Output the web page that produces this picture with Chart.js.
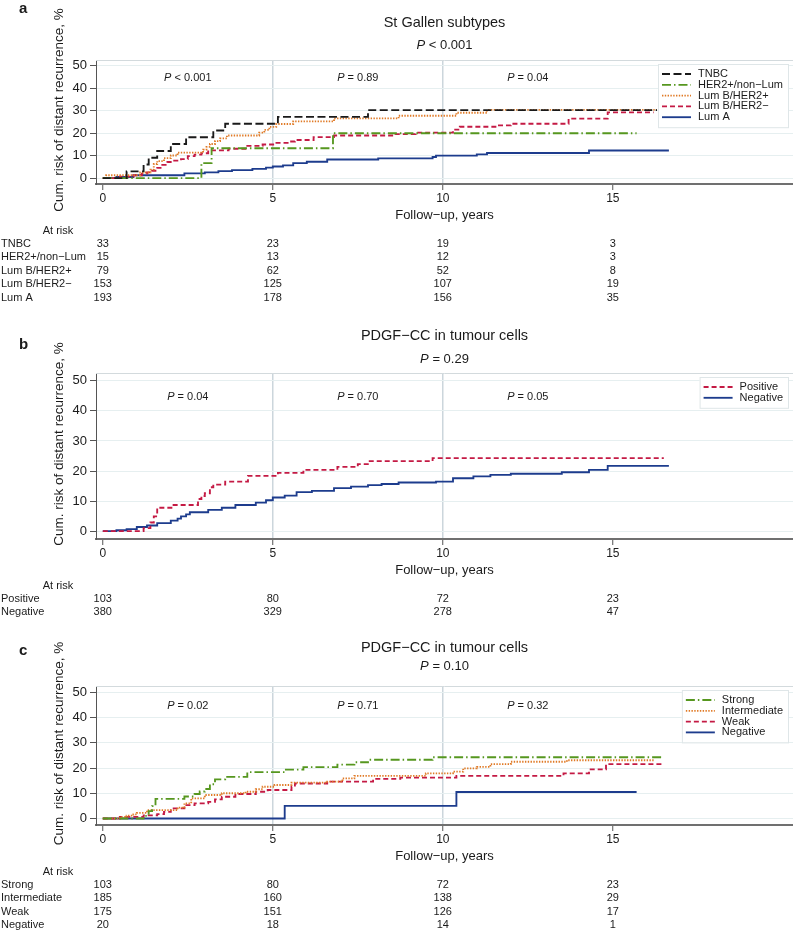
<!DOCTYPE html>
<html>
<head>
<meta charset="utf-8">
<script src="https://cdn.jsdelivr.net/npm/chart.js@4.4.1/dist/chart.umd.min.js"></script>
<style>
  html, body { margin: 0; padding: 0; background: #fff; }
  #page { position: relative; width: 793px; height: 931px; overflow: hidden; }
  canvas { position: absolute; left: 0; }
</style>
</head>
<body>
<div id="page">
  <canvas id="chartA" width="793" height="310" style="top:0"></canvas>
  <canvas id="chartB" width="793" height="310" style="top:310px"></canvas>
  <canvas id="chartC" width="793" height="311" style="top:620px"></canvas>
</div>
<script>
// axes
const xTicks = [0, 5, 10, 15];
const yTicks = [0, 10, 20, 30, 40, 50];
const yTitle = 'Cum. risk of distant recurrence, %';
const xTitle = 'Follow\u2212up, years';

// a: St Gallen subtypes (time in years, cumulative risk in %)
const namesA = ['TNBC', 'HER2+/non\u2212Lum', 'Lum B/HER2+', 'Lum B/HER2\u2212', 'Lum A'];
const tnbcT = [0, 0.7, 1.2, 1.35, 1.6, 2.0, 2.45, 3.25, 3.6, 5.15, 7.8, 16.3];
const tnbcV = [0, 3.0, 6.1, 9.1, 12.1, 15.2, 18.2, 21.2, 24.2, 27.3, 30.3, 30.3];
const her2T = [0, 2.9, 3.2, 6.77, 15.7];
const her2V = [0, 6.7, 13.3, 20.0, 20.0];
const lumBposT = [0, 0.1, 1.1, 1.4, 1.5, 1.6, 1.8, 2.0, 2.2, 2.95, 3.05, 3.15, 3.3, 3.45, 3.65, 4.6, 4.75, 4.9, 5.1, 5.6, 6.8, 8.7, 10.4, 11.3, 16.3];
const lumBposV = [0, 1.3, 2.5, 3.8, 6.3, 7.6, 8.9, 10.1, 11.4, 12.7, 13.9, 15.2, 16.5, 17.7, 19.0, 20.3, 21.5, 22.8, 24.1, 25.3, 26.6, 27.8, 29.1, 30.4, 30.4];
const lumBnegT = [0, 0.5, 0.9, 1.15, 1.3, 1.45, 1.6, 1.75, 1.9, 2.1, 2.3, 2.5, 2.7, 2.9, 3.1, 3.7, 4.25, 4.7, 5.05, 5.5, 5.65, 6.2, 6.8, 8.6, 9.2, 10.3, 10.5, 11.6, 12.0, 13.7, 14.85, 16.2];
const lumBnegV = [0, 0.7, 1.3, 2.0, 2.6, 3.3, 4.6, 5.9, 7.2, 7.8, 8.5, 9.8, 10.5, 11.1, 12.4, 13.1, 14.4, 15.0, 15.7, 16.3, 17.0, 18.3, 19.0, 19.6, 20.3, 21.6, 22.9, 23.5, 24.2, 26.5, 29.3, 29.3];
const lumAT = [0, 0.4, 0.9, 2.4, 3.0, 3.4, 3.8, 4.4, 4.8, 5.0, 5.3, 5.6, 6.0, 6.6, 8.1, 9.7, 9.8, 11.0, 11.3, 14.3, 16.65];
const lumAV = [0, 0.5, 1.3, 2.1, 2.6, 3.1, 3.6, 4.1, 4.7, 5.2, 5.7, 6.7, 7.3, 8.3, 8.8, 9.4, 10.0, 10.6, 11.2, 12.3, 12.3];
const riskTnbc = [33, 23, 19, 3];
const riskHer2 = [15, 13, 12, 3];
const riskLumBpos = [79, 62, 52, 8];
const riskLumBneg = [153, 125, 107, 19];
const riskLumA = [193, 178, 156, 35];
const pA = '< 0.001';
const pPeriodsA = ['< 0.001', '= 0.89', '= 0.04'];

// b: PDGF-CC positive / negative
const namesB = ['Positive', 'Negative'];
const posT = [0, 1.2, 1.4, 1.5, 1.6, 2.05, 2.8, 2.9, 3.0, 3.15, 3.25, 3.6, 4.27, 5.15, 5.9, 6.9, 7.5, 7.85, 9.7, 16.5];
const posV = [0, 1.0, 2.9, 4.9, 7.8, 8.7, 10.7, 11.7, 12.6, 14.6, 15.5, 16.5, 18.4, 19.4, 20.4, 21.4, 22.3, 23.3, 24.3, 24.3];
const negT = [0, 0.4, 0.7, 1.0, 1.3, 1.6, 2.0, 2.2, 2.3, 2.45, 2.56, 3.1, 3.5, 3.9, 4.5, 4.8, 5.0, 5.35, 5.7, 6.15, 6.8, 7.3, 7.8, 8.2, 8.7, 9.8, 10.3, 10.9, 11.4, 12.0, 13.5, 14.3, 14.85, 16.65];
const negV = [0, 0.3, 0.7, 1.4, 1.9, 2.7, 3.5, 4.2, 4.9, 5.6, 6.3, 7.1, 7.8, 8.7, 9.5, 10.3, 11.2, 11.8, 13.0, 13.4, 14.3, 14.8, 15.3, 15.7, 16.2, 16.5, 17.6, 18.2, 18.7, 19.1, 19.6, 20.4, 21.7, 21.7];
const riskPos = [103, 80, 72, 23];
const riskNeg = [380, 329, 278, 47];
const pB = '= 0.29';
const pPeriodsB = ['= 0.04', '= 0.70', '= 0.05'];

// c: PDGF-CC intensity
const namesC = ['Strong', 'Intermediate', 'Weak', 'Negative'];
const strongT = [0, 1.2, 1.35, 1.45, 1.55, 2.4, 2.7, 2.85, 3.0, 3.15, 3.3, 3.6, 4.25, 5.35, 5.9, 6.9, 7.4, 7.8, 9.7, 16.5];
const strongV = [0, 1.0, 2.9, 4.9, 7.8, 8.7, 9.7, 10.7, 11.7, 13.6, 15.5, 16.5, 18.4, 19.4, 20.4, 21.4, 22.3, 23.3, 24.3, 24.3];
const interT = [0, 0.5, 0.7, 0.9, 1.0, 1.3, 2.2, 2.4, 2.6, 3.0, 3.5, 4.2, 4.5, 4.7, 5.05, 5.55, 6.6, 7.05, 7.4, 9.5, 10.3, 10.6, 11.0, 11.4, 12.0, 13.65, 16.2];
const interV = [0, 0.5, 1.1, 1.6, 2.2, 3.3, 4.3, 6.0, 8.0, 9.3, 10.0, 10.6, 11.6, 12.6, 13.3, 14.2, 14.6, 15.9, 16.9, 17.9, 18.6, 19.9, 20.5, 21.6, 22.5, 23.1, 23.1];
const weakT = [0, 0.5, 1.2, 1.6, 1.8, 2.0, 2.4, 2.7, 3.1, 3.3, 3.5, 3.9, 4.5, 4.85, 5.55, 5.65, 6.6, 7.95, 8.75, 10.4, 13.55, 14.3, 14.8, 16.5];
const weakV = [0, 0.6, 1.2, 1.7, 2.6, 4.0, 5.3, 6.0, 6.6, 7.6, 8.6, 9.7, 10.6, 11.3, 12.6, 13.9, 14.6, 15.7, 16.2, 16.9, 17.9, 19.5, 21.6, 21.6];
const negCT = [0, 5.35, 10.4, 15.7];
const negCV = [0, 5.0, 10.5, 10.5];
const riskStrong = [103, 80, 72, 23];
const riskInter = [185, 160, 138, 29];
const riskWeak = [175, 151, 126, 17];
const riskNegC = [20, 18, 14, 1];
const pC = '= 0.10';
const pPeriodsC = ['= 0.02', '= 0.71', '= 0.32'];

// ---- styling ----
const FONT = "'Liberation Sans', Arial, Helvetica, sans-serif";
const INK = '#1b1b1b';
const LINE_W = 1.85;
const BLACK = { color: '#1a1a1a', dash: [8, 3.5] };
const GREEN = { color: '#56971f', dash: [9, 3, 1.5, 3] };
const ORANGE = { color: '#e07a26', dash: [1.4, 1.4] };
const RED = { color: '#c41a44', dash: [5, 3] };
const NAVY = { color: '#1d3c8d', dash: [] };
const P_X = [2.5, 7.5, 12.5];
const P_Y = 44.6;

function drawP(ctx, rest, cx, cy, size) {
  ctx.font = `italic ${size}px ${FONT}`;
  const w1 = ctx.measureText('P').width;
  ctx.font = `${size}px ${FONT}`;
  const w2 = ctx.measureText(' ' + rest).width;
  const x0 = cx - (w1 + w2) / 2;
  ctx.textAlign = 'left';
  ctx.font = `italic ${size}px ${FONT}`;
  ctx.fillText('P', x0, cy);
  ctx.font = `${size}px ${FONT}`;
  ctx.fillText(' ' + rest, x0 + w1, cy);
}

function decor(p) {
  return {
    id: 'decor' + p.letter,
    beforeDatasetsDraw(chart) {
      const { ctx, chartArea: a } = chart;
      ctx.save();
      ctx.strokeStyle = '#d3dadd';
      ctx.lineWidth = 1;
      ctx.beginPath();
      ctx.moveTo(a.left, a.top + 0.5);
      ctx.lineTo(a.right, a.top + 0.5);
      ctx.stroke();
      ctx.restore();
    },
    afterDraw(chart) {
      const { ctx, chartArea: a, scales: { x, y } } = chart;
      const cx = (a.left + a.right) / 2;
      ctx.save();
      ctx.fillStyle = INK;
      ctx.textBaseline = 'middle';

      ctx.font = `bold 15px ${FONT}`;
      ctx.textAlign = 'left';
      ctx.fillText(p.letter, 19, p.letterY);

      ctx.font = `14.5px ${FONT}`;
      ctx.textAlign = 'center';
      ctx.fillText(p.title, cx, p.titleY);
      drawP(ctx, p.pAll, cx, p.pY, 13);

      ctx.save();
      ctx.translate(59, (a.top + a.bottom) / 2 - 12);
      ctx.rotate(-Math.PI / 2);
      ctx.font = `13.5px ${FONT}`;
      ctx.textAlign = 'center';
      ctx.fillText(yTitle, 0, 0);
      ctx.restore();

      ctx.font = `13px ${FONT}`;
      ctx.textAlign = 'center';
      ctx.fillText(xTitle, cx, a.bottom + 31.5);

      p.pParts.forEach((s, i) => drawP(ctx, s, x.getPixelForValue(P_X[i]), y.getPixelForValue(P_Y), 11));

      // legend box
      const ds = chart.data.datasets;
      ctx.font = `11px ${FONT}`;
      const tw = Math.max(...ds.map(d => ctx.measureText(d.label).width));
      const lineW = 29, pad = 4, gap = 7, step = 10.8;
      const bw = pad + lineW + gap + tw + 5;
      const bh = 20 + (ds.length - 1) * step;
      const bx = a.right - 5 - bw, by = a.top + 4;
      ctx.fillStyle = '#fff';
      ctx.fillRect(bx, by, bw, bh);
      ctx.strokeStyle = '#dfe6e8';
      ctx.lineWidth = 1;
      ctx.strokeRect(bx + 0.5, by + 0.5, bw, bh);
      ds.forEach((d, i) => {
        const yy = by + 10 + i * step;
        ctx.strokeStyle = d.borderColor;
        ctx.lineWidth = LINE_W;
        ctx.setLineDash(d.borderDash || []);
        ctx.beginPath();
        ctx.moveTo(bx + pad, yy);
        ctx.lineTo(bx + pad + lineW, yy);
        ctx.stroke();
        ctx.setLineDash([]);
        ctx.fillStyle = INK;
        ctx.textAlign = 'left';
        ctx.fillText(d.label, bx + pad + lineW + gap, yy);
      });

      // number at risk
      ctx.fillStyle = INK;
      ctx.font = `11px ${FONT}`;
      ctx.textAlign = 'center';
      ctx.fillText('At risk', 58, a.bottom + 46.5);
      p.risk.forEach((row, r) => {
        const yy = a.bottom + 59.5 + r * 13.5;
        ctx.textAlign = 'left';
        ctx.fillText(p.names[r], 1, yy);
        ctx.textAlign = 'center';
        row.forEach((n, i) => ctx.fillText(String(n), x.getPixelForValue(xTicks[i]), yy));
      });
      ctx.restore();
    }
  };
}

function makeChart(id, p) {
  const datasets = p.series.map((s, i) => ({
    label: p.names[i],
    data: s.t.map((t, k) => ({ x: t, y: s.v[k] })),
    borderColor: s.style.color,
    borderDash: s.style.dash,
    borderWidth: LINE_W,
    borderCapStyle: 'butt',
    stepped: true,
    pointRadius: 0,
    fill: false,
    tension: 0
  }));
  return new Chart(document.getElementById(id), {
    type: 'line',
    data: { datasets },
    options: {
      responsive: false,
      animation: false,
      devicePixelRatio: 1,
      events: [],
      layout: { padding: { top: p.areaTop, left: 0, right: 0, bottom: 0 } },
      plugins: { legend: { display: false }, tooltip: { enabled: false }, title: { display: false } },
      scales: {
        x: {
          type: 'linear', min: -0.2, max: 20.3, bounds: 'data',
          afterBuildTicks: s => { s.ticks = xTicks.map(v => ({ value: v })); },
          afterFit: s => { s.height = p.h - p.areaBottom; },
          grid: {
            color: c => (c.tick && (c.tick.value === 5 || c.tick.value === 10)) ? '#ccd6dc' : 'rgba(0,0,0,0)',
            lineWidth: 1.5, tickColor: '#555', tickLength: 6, tickWidth: 1
          },
          border: { color: '#707070', width: 2 },
          ticks: { color: INK, font: { family: FONT, size: 12 }, padding: 1, maxRotation: 0 }
        },
        y: {
          type: 'linear', min: -2.6, max: 52.6, bounds: 'data',
          afterBuildTicks: s => { s.ticks = yTicks.map(v => ({ value: v })); },
          afterFit: s => { s.width = 96; },
          grid: { color: '#e6eff0', lineWidth: 1, tickColor: '#555', tickLength: 6, tickWidth: 1 },
          border: { color: '#555', width: 1 },
          ticks: { color: INK, font: { family: FONT, size: 13 }, padding: 3 }
        }
      }
    },
    plugins: [decor(p)]
  });
}

makeChart('chartA', {
  letter: 'a', title: 'St Gallen subtypes', pAll: pA, pParts: pPeriodsA,
  h: 310, areaTop: 60, areaBottom: 184, letterY: 9, titleY: 23, pY: 45,
  names: namesA,
  series: [
    { t: tnbcT, v: tnbcV, style: BLACK },
    { t: her2T, v: her2V, style: GREEN },
    { t: lumBposT, v: lumBposV, style: ORANGE },
    { t: lumBnegT, v: lumBnegV, style: RED },
    { t: lumAT, v: lumAV, style: NAVY }
  ],
  risk: [riskTnbc, riskHer2, riskLumBpos, riskLumBneg, riskLumA]
});

makeChart('chartB', {
  letter: 'b', title: 'PDGF\u2212CC in tumour cells', pAll: pB, pParts: pPeriodsB,
  h: 310, areaTop: 63, areaBottom: 229, letterY: 35, titleY: 26, pY: 49,
  names: namesB,
  series: [
    { t: posT, v: posV, style: RED },
    { t: negT, v: negV, style: NAVY }
  ],
  risk: [riskPos, riskNeg]
});

makeChart('chartC', {
  letter: 'c', title: 'PDGF\u2212CC in tumour cells', pAll: pC, pParts: pPeriodsC,
  h: 311, areaTop: 66, areaBottom: 205, letterY: 31, titleY: 28, pY: 46,
  names: namesC,
  series: [
    { t: strongT, v: strongV, style: GREEN },
    { t: interT, v: interV, style: ORANGE },
    { t: weakT, v: weakV, style: RED },
    { t: negCT, v: negCV, style: NAVY }
  ],
  risk: [riskStrong, riskInter, riskWeak, riskNegC]
});
</script>
</body>
</html>
